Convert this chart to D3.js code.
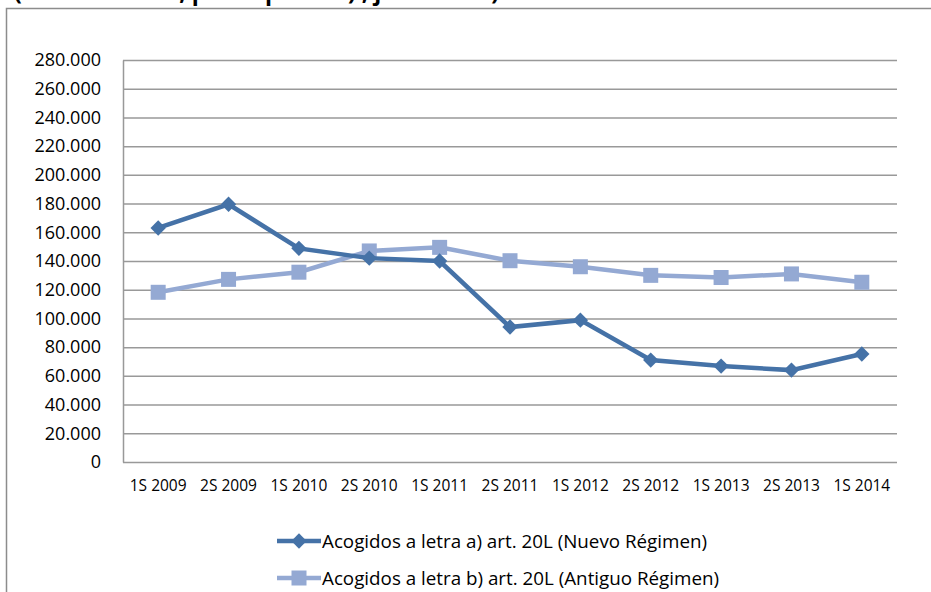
<!DOCTYPE html>
<html>
<head>
<meta charset="utf-8">
<script src="https://cdn.jsdelivr.net/npm/d3@7"></script>
<style>
  body { margin: 0; background: #fff; }
  svg text { font-family: "Open Sans", "Noto Sans", sans-serif; fill: #000; }
</style>
</head>
<body>
<svg id="chart" width="931" height="592"></svg>
<script>
// data
let periods = ['1S 2009', '2S 2009', '1S 2010', '2S 2010', '1S 2011', '2S 2011',
    '1S 2012', '2S 2012', '1S 2013', '2S 2013', '1S 2014'];
let nuevoValues = [163000, 179500, 148800, 142000, 140000, 94000, 98800, 71000, 66800, 64000, 75200];
let antiguoValues = [118200, 127200, 132200, 147000, 149500, 140200, 136000, 130000, 128500, 131000, 125200];
let yTicks = [0, 20000, 40000, 60000, 80000, 100000, 120000, 140000, 160000, 180000, 200000, 220000, 240000, 260000, 280000];
let seriesNames = ['Acogidos a letra a) art. 20L (Nuevo Régimen)', 'Acogidos a letra b) art. 20L (Antiguo Régimen)'];
let titleText = '(Montos en UF, por depósitos) , junio 2014)';

let nuevoColor = '#4572a7';
let antiguoColor = '#94a9d3';
let gridColor = '#999999';

let svg = d3.select('#chart');
let padding = {t: 60, r: 34, b: 130, l: 123};
let chartWidth = 931 - padding.l - padding.r;
let chartHeight = 592 - padding.t - padding.b;

// frame and title (top of it falls outside the picture, as in the source)
svg.append('rect')
    .attr('x', 6.5).attr('y', 8.5)
    .attr('width', 940).attr('height', 600)
    .attr('fill', 'none')
    .attr('stroke', '#8c8c8c')
    .attr('stroke-width', 1.5);
svg.append('text')
    .attr('x', 14).attr('y', 0)
    .style('font-size', '23px')
    .style('font-weight', 'bold')
    .text(titleText);

let xScale = d3.scaleBand().domain(periods).range([0, chartWidth]);
let yScale = d3.scaleLinear().domain([0, 280000]).range([chartHeight, 0]);
let fmt = v => d3.format(',')(v).replace(/,/g, '.');

let g = svg.append('g').attr('transform', `translate(${padding.l},${padding.t})`);

// y axis with gridlines
let yAxis = d3.axisLeft(yScale).tickValues(yTicks).tickSizeInner(-chartWidth).tickSizeOuter(0).tickPadding(22).tickFormat(fmt);
let yAxisG = g.append('g').attr('class', 'y axis').call(yAxis);
yAxisG.select('.domain').attr('stroke', gridColor).attr('stroke-width', 1.5);
yAxisG.selectAll('.tick line').attr('stroke', gridColor).attr('stroke-width', 1.5);
yAxisG.selectAll('.tick text').style('font-size', '18px');

// x axis
let xAxis = d3.axisBottom(xScale).tickSize(0).tickPadding(18);
let xAxisG = g.append('g').attr('class', 'x axis')
    .attr('transform', `translate(0,${chartHeight})`)
    .call(xAxis);
xAxisG.select('.domain').remove();
xAxisG.selectAll('.tick text').style('font-size', '15.5px');

let xPos = i => xScale(periods[i]) + xScale.bandwidth() / 2;
let lineFun = d3.line().x((d, i) => xPos(i)).y(d => yScale(d));

// antiguo series (squares)
g.append('path')
    .datum(antiguoValues)
    .attr('fill', 'none')
    .attr('stroke', antiguoColor)
    .attr('stroke-width', 4.5)
    .attr('d', lineFun);
g.selectAll('.sq')
    .data(antiguoValues)
    .enter().append('rect')
    .attr('class', 'sq')
    .attr('x', (d, i) => xPos(i) - 7.5)
    .attr('y', d => yScale(d) - 7.5)
    .attr('width', 15).attr('height', 15)
    .attr('fill', antiguoColor);

// nuevo series (diamonds)
g.append('path')
    .datum(nuevoValues)
    .attr('fill', 'none')
    .attr('stroke', nuevoColor)
    .attr('stroke-width', 4.5)
    .attr('d', lineFun);
let diamond = d3.symbol().type(d3.symbolDiamond2).size(150);
g.selectAll('.dm')
    .data(nuevoValues)
    .enter().append('path')
    .attr('class', 'dm')
    .attr('transform', (d, i) => `translate(${xPos(i)},${yScale(d)})`)
    .attr('d', diamond)
    .attr('fill', nuevoColor);

// legend
let legend = svg.append('g').attr('class', 'legend').attr('transform', 'translate(277, 541)');
function drawLegendItem(gItem, color, marker, label){
    gItem.append('line')
        .attr('x1', 0).attr('x2', 44)
        .attr('y1', 0).attr('y2', 0)
        .attr('stroke', color)
        .attr('stroke-width', 4.5);
    if(marker === 'square'){
        gItem.append('rect')
            .attr('x', 14.5).attr('y', -7.5)
            .attr('width', 15).attr('height', 15)
            .attr('fill', color);
    } else {
        gItem.append('path')
            .attr('transform', 'translate(22,0)')
            .attr('d', diamond)
            .attr('fill', color);
    }
    gItem.append('text')
        .attr('x', 45).attr('y', 6.5)
        .style('font-size', '18.8px')
        .text(label);
}
drawLegendItem(legend.append('g'), nuevoColor, 'diamond', seriesNames[0]);
drawLegendItem(legend.append('g').attr('transform', 'translate(0, 37)'), antiguoColor, 'square', seriesNames[1]);
</script>
</body>
</html>
